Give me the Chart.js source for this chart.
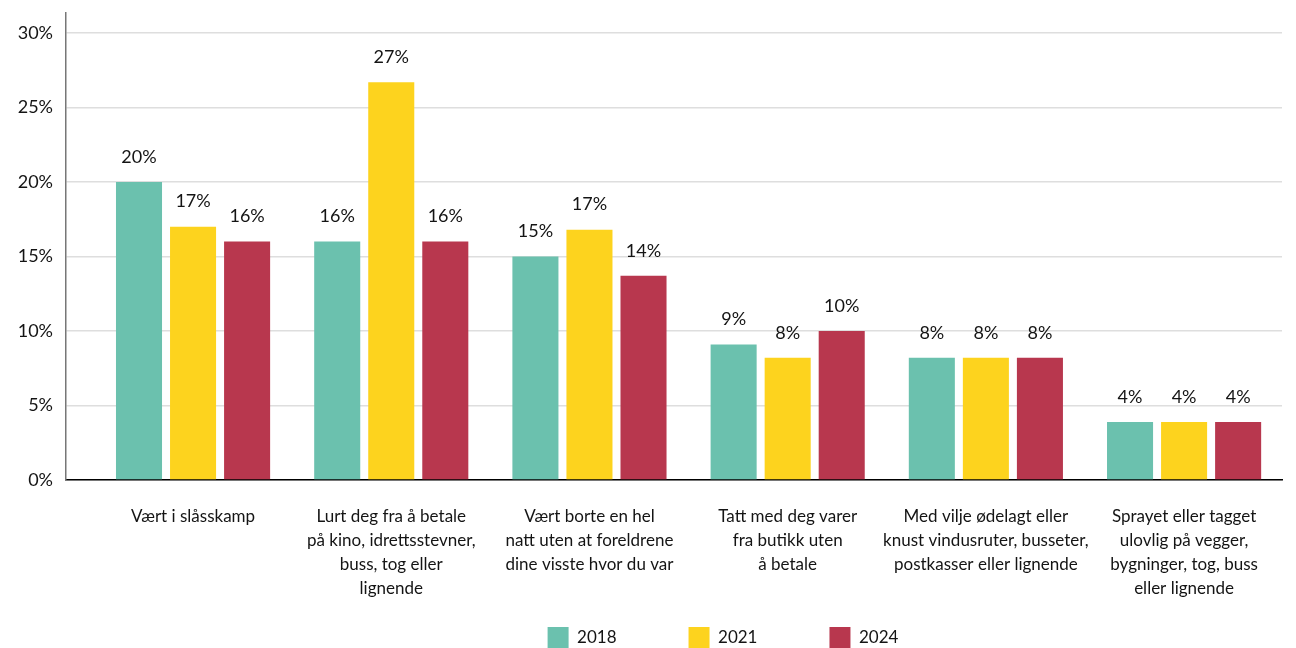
<!DOCTYPE html>
<html>
<head>
<meta charset="utf-8">
<script src="https://cdn.jsdelivr.net/npm/chart.js@4/dist/chart.umd.min.js"></script>
<style>
  html, body { margin: 0; padding: 0; background: #fff; }
  #wrap { width: 1296px; height: 648px; }
</style>
</head>
<body>
<div id="wrap"><canvas id="c" width="1296" height="648"></canvas></div>
<script>
const categories = [
  ["Vært i slåsskamp"],
  ["Lurt deg fra å betale", "på kino, idrettsstevner,", "buss, tog eller", "lignende"],
  ["Vært borte en hel", "natt uten at foreldrene", "dine visste hvor du var"],
  ["Tatt med deg varer", "fra butikk uten", "å betale"],
  ["Med vilje ødelagt eller", "knust vindusruter, busseter,", "postkasser eller lignende"],
  ["Sprayet eller tagget", "ulovlig på vegger,", "bygninger, tog, buss", "eller lignende"]
];
const years = ["2018", "2021", "2024"];
const values2018 = [20, 16, 15, 9.1, 8.2, 3.9];
const values2021 = [17, 26.7, 16.8, 8.2, 8.2, 3.9];
const values2024 = [16, 16, 13.7, 10, 8.2, 3.9];
const yTicks = [0, 5, 10, 15, 20, 25, 30];
const colors = ["#6BC1AE", "#FDD31E", "#B8374E"];

const FONT = "Lato";
const TEXT = "#141414";
const LEGEND_PAD = 72;

const seriesValues = [values2018, values2021, values2024];
const datasets = years.map((y, k) => ({
  label: y,
  data: seriesValues[k].map((v, i) => ({ x: i, y: v })),
  backgroundColor: colors[k],
  borderWidth: 0,
  categoryPercentage: 0.818,
  barPercentage: 0.852
}));

const valueLabels = {
  id: "valueLabels",
  afterDatasetsDraw(chart) {
    const ctx = chart.ctx;
    ctx.save();
    ctx.font = "18px " + FONT;
    ctx.fillStyle = TEXT;
    ctx.textAlign = "center";
    ctx.textBaseline = "middle";
    chart.data.datasets.forEach((ds, di) => {
      const meta = chart.getDatasetMeta(di);
      meta.data.forEach((bar, i) => {
        const v = ds.data[i].y;
        ctx.fillText(Math.round(v) + "%", bar.x, bar.y - 25);
      });
    });
    ctx.restore();
  }
};

// Compact legend: wide horizontal spacing, small reserved height
const legendLayout = {
  id: "legendLayout",
  afterInit(chart) {
    const lg = chart.legend;
    if (!lg || lg._patched) return;
    const origFit = lg.fit.bind(lg);
    lg.fit = function () { origFit(); this.height = 47; };
    lg._patched = true;
  },
  afterLayout(chart) {
    const lg = chart.legend;
    if (!lg) return;
    lg.top = 627 - LEGEND_PAD;
    lg.bottom = 648;
    lg.left += 82;
    lg.right += 82;
  }
};

new Chart(document.getElementById("c"), {
  type: "bar",
  data: { datasets },
  plugins: [valueLabels, legendLayout],
  options: {
    responsive: false,
    animation: false,
    layout: { padding: { top: 13, right: 14, left: 0, bottom: 0 } },
    plugins: {
      legend: {
        position: "bottom",
        labels: {
          boxWidth: 21,
          boxHeight: 21,
          padding: LEGEND_PAD,
          color: TEXT,
          font: { family: FONT, size: 17 }
        }
      },
      tooltip: { enabled: false }
    },
    scales: {
      x: {
        type: "linear",
        offset: false,
        min: -0.641,
        max: 5.494,
        afterBuildTicks(scale) {
          scale.ticks = categories.map((_, i) => ({ value: i }));
        },
        afterFit(scale) {
          scale.height = 121;
          scale.paddingLeft = 0;
          scale.paddingRight = 0;
        },
        grid: { display: false, drawTicks: false, offset: false },
        border: { display: true, color: "#000", width: 1.5 },
        ticks: {
          autoSkip: false,
          maxRotation: 0,
          minRotation: 0,
          padding: 24,
          color: TEXT,
          font: { family: FONT, size: 17, lineHeight: 1.42 },
          callback: (v) => categories[v]
        }
      },
      y: {
        min: 0,
        max: 31.34,
        afterBuildTicks(scale) {
          scale.ticks = yTicks.map(v => ({ value: v }));
        },
        afterFit(scale) {
          scale.width = 66;
          scale.paddingTop = 0;
          scale.paddingBottom = 0;
        },
        grid: { color: "#dedede", lineWidth: 1.5, drawTicks: false },
        border: { display: true, color: "#777", width: 1.5 },
        ticks: {
          padding: 13,
          color: TEXT,
          font: { family: FONT, size: 18 },
          callback: (v) => v + "%"
        }
      }
    }
  }
});
</script>
</body>
</html>
